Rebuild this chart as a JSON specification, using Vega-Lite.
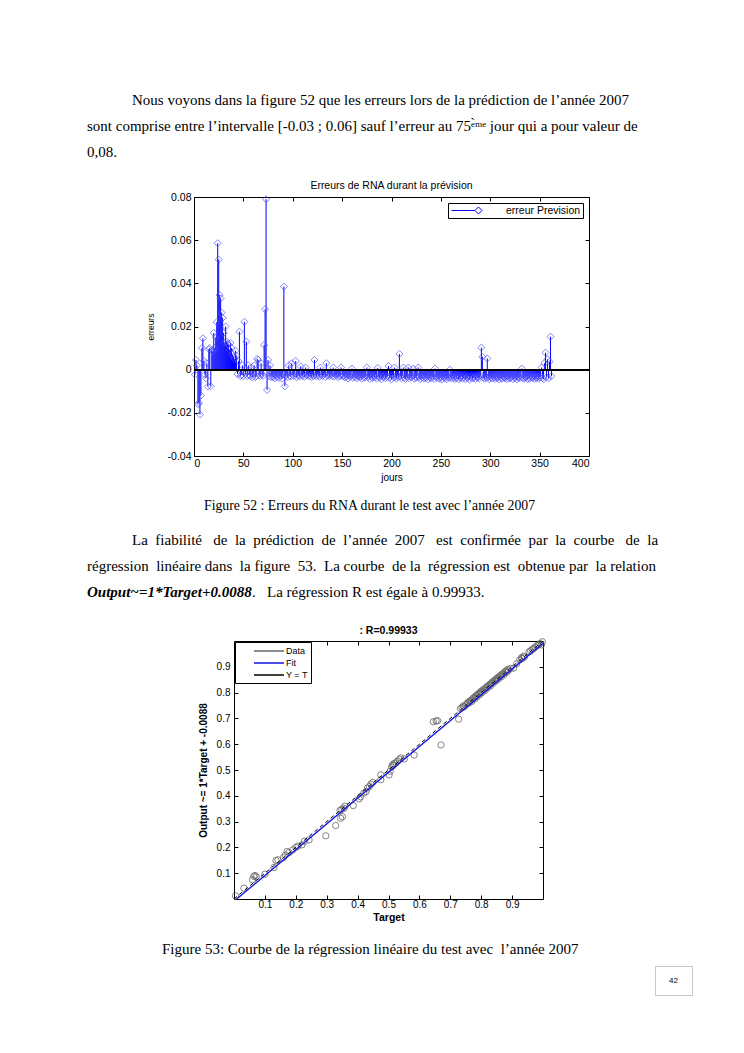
{
  "$schema": "https://vega.github.io/schema/vega-lite/v6.json",
  "background": "#ffffff",
  "padding": 0,
  "bounds": "flush",
  "spacing": 0,
  "resolve": {"scale": {"color": "independent"}, "legend": {"color": "independent"}},
  "config": {
    "view": {"stroke": null},
    "font": "Liberation Sans",
    "concat": {"spacing": 0},
    "axis": {"domain": false, "grid": false, "ticks": true, "tickSize": -4, "tickColor": "#000000", "tickWidth": 1, "labelFont": "Liberation Sans", "labelFontSize": 10.5, "labelColor": "#000000", "labelPadding": 6, "titleFont": "Liberation Sans", "titleColor": "#000000", "titleFontWeight": "normal"},
    "legend": {"labelFont": "Liberation Sans", "labelColor": "#000000"},
    "title": {"font": "Liberation Sans", "color": "#000000"},
    "text": {"font": "Liberation Serif", "fontSize": 15, "color": "#000000"}
  },
  "datasets": {
    "para1": [
      {"ligne": 1, "texte": "\u200b\u00a0\u00a0\u00a0\u00a0\u00a0\u00a0\u00a0\u00a0\u00a0\u00a0\u00a0\u00a0Nous voyons dans la figure 52 que les erreurs lors de la prédiction de l’année 2007"},
      {"ligne": 2, "texte": "sont comprise entre l’intervalle [-0.03 ; 0.06] sauf l’erreur au 75\u1d49\u0300\u1d50\u1d49 jour qui a pour valeur de"},
      {"ligne": 3, "texte": "0,08."}
    ],
    "legende52": [{"ligne": 1, "texte": "Figure 52 : Erreurs du RNA durant le test avec l’année 2007"}],
    "para2": [
      {"ligne": 1, "texte": "\u200b\u00a0\u00a0\u00a0\u00a0\u00a0\u00a0\u00a0\u00a0\u00a0\u00a0\u00a0\u00a0La \u00a0fiabilité \u00a0\u00a0de \u00a0la \u00a0prédiction \u00a0de \u00a0l’année \u00a02007 \u00a0\u00a0est \u00a0confirmée \u00a0par \u00a0la \u00a0courbe \u00a0\u00a0de \u00a0la"},
      {"ligne": 2, "texte": "régression \u00a0linéaire dans \u00a0la figure \u00a053. \u00a0La courbe \u00a0de la \u00a0régression est \u00a0obtenue par \u00a0la relation"},
      {"ligne": 3, "texte": "\u200b\u00a0\u00a0\u00a0\u00a0\u00a0\u00a0\u00a0\u00a0\u00a0\u00a0\u00a0\u00a0\u00a0\u00a0\u00a0\u00a0\u00a0\u00a0\u00a0\u00a0\u00a0\u00a0\u00a0\u00a0\u00a0\u00a0\u00a0\u00a0\u00a0\u00a0\u00a0\u00a0\u00a0\u00a0\u00a0\u00a0\u00a0\u00a0\u00a0\u00a0\u00a0\u00a0\u00a0\u00a0.\u00a0\u00a0\u00a0La régression R est égale à 0.99933."}
    ],
    "para2gras": [{"ligne": 3, "texte": "Output~=1*Target+0.0088"}],
    "legende53": [{"ligne": 1, "texte": "Figure 53: Courbe de la régression linéaire du test avec \u00a0l’année 2007"}],
    "erreurs": [
      {"jour":1,"erreur":-0.0023},{"jour":2,"erreur":0.0045},{"jour":3,"erreur":0.002},{"jour":4,"erreur":-0.016},{"jour":5,"erreur":-0.0154},{"jour":6,"erreur":-0.0208},{"jour":7,"erreur":-0.012},{"jour":8,"erreur":0.010},{"jour":9,"erreur":0.0145},{"jour":10,"erreur":0.004},
      {"jour":11,"erreur":-0.0023},{"jour":12,"erreur":-0.004},{"jour":13,"erreur":0.003},{"jour":14,"erreur":-0.0078},{"jour":15,"erreur":0.0095},{"jour":16,"erreur":0.010},{"jour":17,"erreur":-0.0077},{"jour":18,"erreur":0.009},{"jour":19,"erreur":0.0085},{"jour":20,"erreur":0.017},
      {"jour":21,"erreur":0.010},{"jour":22,"erreur":0.015},{"jour":23,"erreur":0.022},{"jour":24,"erreur":0.0586},{"jour":25,"erreur":0.051},{"jour":26,"erreur":0.0346},{"jour":27,"erreur":0.033},{"jour":28,"erreur":0.0264},{"jour":29,"erreur":0.024},{"jour":30,"erreur":0.017},
      {"jour":31,"erreur":0.0125},{"jour":32,"erreur":0.020},{"jour":33,"erreur":0.013},{"jour":34,"erreur":0.012},{"jour":35,"erreur":0.0116},{"jour":36,"erreur":0.009},{"jour":37,"erreur":0.0124},{"jour":38,"erreur":0.010},{"jour":39,"erreur":0.007},{"jour":40,"erreur":0.006},
      {"jour":41,"erreur":0.005},{"jour":42,"erreur":0.0088},{"jour":43,"erreur":0.0065},{"jour":44,"erreur":-0.002},{"jour":45,"erreur":0.004},{"jour":46,"erreur":0.0176},{"jour":47,"erreur":-0.003},{"jour":48,"erreur":-0.0025},{"jour":49,"erreur":0.002},{"jour":50,"erreur":-0.003},
      {"jour":51,"erreur":0.0222},{"jour":52,"erreur":-0.002},{"jour":53,"erreur":0.013},{"jour":54,"erreur":-0.003},{"jour":55,"erreur":0.002},{"jour":56,"erreur":-0.0025},{"jour":57,"erreur":-0.003},{"jour":58,"erreur":0.001},{"jour":59,"erreur":-0.0035},{"jour":60,"erreur":-0.002},
      {"jour":61,"erreur":0.002},{"jour":62,"erreur":-0.0035},{"jour":63,"erreur":-0.003},{"jour":64,"erreur":0.005},{"jour":65,"erreur":0.0045},{"jour":66,"erreur":-0.0025},{"jour":67,"erreur":-0.003},{"jour":68,"erreur":0.003},{"jour":69,"erreur":-0.002},{"jour":70,"erreur":-0.0028},
      {"jour":71,"erreur":0.0114},{"jour":72,"erreur":0.028},{"jour":73,"erreur":0.079},{"jour":74,"erreur":-0.0094},{"jour":75,"erreur":0.0045},{"jour":76,"erreur":-0.003},{"jour":77,"erreur":0.002},{"jour":78,"erreur":-0.0035},{"jour":79,"erreur":-0.0030},{"jour":80,"erreur":-0.0035},
      {"jour":81,"erreur":-0.0020},{"jour":82,"erreur":-0.0040},{"jour":83,"erreur":-0.0028},{"jour":84,"erreur":-0.0033},{"jour":85,"erreur":-0.0015},{"jour":86,"erreur":-0.0038},{"jour":87,"erreur":-0.0025},{"jour":88,"erreur":-0.0030},{"jour":89,"erreur":-0.0042},{"jour":90,"erreur":-0.0020},
      {"jour":91,"erreur":0.0385},{"jour":92,"erreur":-0.0077},{"jour":93,"erreur":-0.0030},{"jour":94,"erreur":-0.0022},{"jour":95,"erreur":-0.0035},{"jour":96,"erreur":0.0020},{"jour":97,"erreur":-0.0028},{"jour":98,"erreur":-0.0032},{"jour":99,"erreur":0.0030},{"jour":100,"erreur":-0.0025},
      {"jour":101,"erreur":-0.0030},{"jour":102,"erreur":-0.0018},{"jour":103,"erreur":0.0040},{"jour":104,"erreur":-0.0035},{"jour":105,"erreur":-0.0027},{"jour":106,"erreur":-0.0020},{"jour":107,"erreur":-0.0031},{"jour":108,"erreur":0.0015},{"jour":109,"erreur":-0.0024},{"jour":110,"erreur":-0.0030},
      {"jour":111,"erreur":-0.0019},{"jour":112,"erreur":-0.0033},{"jour":113,"erreur":0.0010},{"jour":114,"erreur":-0.0026},{"jour":115,"erreur":-0.0022},{"jour":116,"erreur":-0.0030},{"jour":117,"erreur":-0.0017},{"jour":118,"erreur":-0.0028},{"jour":119,"erreur":-0.0035},{"jour":120,"erreur":-0.0021},
      {"jour":121,"erreur":-0.0029},{"jour":122,"erreur":0.0045},{"jour":123,"erreur":-0.0024},{"jour":124,"erreur":-0.0031},{"jour":125,"erreur":-0.0018},{"jour":126,"erreur":-0.0027},{"jour":127,"erreur":-0.0033},{"jour":128,"erreur":0.0010},{"jour":129,"erreur":-0.0022},{"jour":130,"erreur":-0.0030},
      {"jour":131,"erreur":-0.0025},{"jour":132,"erreur":-0.0019},{"jour":133,"erreur":-0.0034},{"jour":134,"erreur":0.0030},{"jour":135,"erreur":-0.0028},{"jour":136,"erreur":-0.0021},{"jour":137,"erreur":-0.0030},{"jour":138,"erreur":-0.0024},{"jour":139,"erreur":-0.0017},{"jour":140,"erreur":-0.0029},
      {"jour":141,"erreur":0.0010},{"jour":142,"erreur":-0.0032},{"jour":143,"erreur":-0.0023},{"jour":144,"erreur":-0.0027},{"jour":145,"erreur":-0.0020},{"jour":146,"erreur":-0.0035},{"jour":147,"erreur":-0.0026},{"jour":148,"erreur":-0.0030},{"jour":149,"erreur":0.0010},{"jour":150,"erreur":-0.0024},
      {"jour":151,"erreur":-0.0031},{"jour":152,"erreur":-0.0028},{"jour":153,"erreur":-0.0036},{"jour":154,"erreur":-0.0022},{"jour":155,"erreur":-0.0030},{"jour":156,"erreur":-0.0041},{"jour":157,"erreur":-0.0027},{"jour":158,"erreur":-0.0033},{"jour":159,"erreur":-0.0025},{"jour":160,"erreur":0.0005},
      {"jour":161,"erreur":-0.0038},{"jour":162,"erreur":-0.0029},{"jour":163,"erreur":-0.0034},{"jour":164,"erreur":-0.0023},{"jour":165,"erreur":-0.0040},{"jour":166,"erreur":-0.0031},{"jour":167,"erreur":-0.0027},{"jour":168,"erreur":-0.0036},{"jour":169,"erreur":-0.0030},{"jour":170,"erreur":-0.0042},
      {"jour":171,"erreur":-0.0025},{"jour":172,"erreur":-0.0033},{"jour":173,"erreur":-0.0038},{"jour":174,"erreur":-0.0028},{"jour":175,"erreur":0.0010},{"jour":176,"erreur":-0.0035},{"jour":177,"erreur":-0.0030},{"jour":178,"erreur":-0.0043},{"jour":179,"erreur":-0.0026},{"jour":180,"erreur":-0.0034},
      {"jour":181,"erreur":-0.0039},{"jour":182,"erreur":-0.0029},{"jour":183,"erreur":-0.0036},{"jour":184,"erreur":-0.0024},{"jour":185,"erreur":-0.0041},{"jour":186,"erreur":0.0008},{"jour":187,"erreur":-0.0032},{"jour":188,"erreur":-0.0037},{"jour":189,"erreur":-0.0028},{"jour":190,"erreur":-0.0044},
      {"jour":191,"erreur":-0.0031},{"jour":192,"erreur":-0.0035},{"jour":193,"erreur":-0.0026},{"jour":194,"erreur":-0.0040},{"jour":195,"erreur":-0.0033},{"jour":196,"erreur":-0.0029},{"jour":197,"erreur":0.0017},{"jour":198,"erreur":-0.0038},{"jour":199,"erreur":-0.0030},{"jour":200,"erreur":-0.0045},
      {"jour":201,"erreur":-0.0027},{"jour":202,"erreur":-0.0036},{"jour":203,"erreur":0.0010},{"jour":204,"erreur":-0.0032},{"jour":205,"erreur":-0.0041},{"jour":206,"erreur":-0.0028},{"jour":207,"erreur":-0.0035},{"jour":208,"erreur":0.0073},{"jour":209,"erreur":-0.0030},{"jour":210,"erreur":-0.0039},
      {"jour":211,"erreur":-0.0025},{"jour":212,"erreur":0.0010},{"jour":213,"erreur":-0.0037},{"jour":214,"erreur":-0.0043},{"jour":215,"erreur":-0.0029},{"jour":216,"erreur":-0.0034},{"jour":217,"erreur":0.0010},{"jour":218,"erreur":-0.0040},{"jour":219,"erreur":-0.0031},{"jour":220,"erreur":-0.0036},
      {"jour":221,"erreur":-0.0027},{"jour":222,"erreur":0.0005},{"jour":223,"erreur":-0.0042},{"jour":224,"erreur":-0.0033},{"jour":225,"erreur":-0.0038},{"jour":226,"erreur":-0.0029},{"jour":227,"erreur":0.0010},{"jour":228,"erreur":-0.0035},{"jour":229,"erreur":-0.0044},{"jour":230,"erreur":-0.0030},
      {"jour":231,"erreur":-0.0037},{"jour":232,"erreur":-0.0026},{"jour":233,"erreur":-0.0041},{"jour":234,"erreur":-0.0034},{"jour":235,"erreur":-0.0039},{"jour":236,"erreur":-0.0028},{"jour":237,"erreur":-0.0045},{"jour":238,"erreur":-0.0032},{"jour":239,"erreur":-0.0036},{"jour":240,"erreur":-0.0040},
      {"jour":241,"erreur":-0.0029},{"jour":242,"erreur":-0.0035},{"jour":243,"erreur":-0.0043},{"jour":244,"erreur":0.0005},{"jour":245,"erreur":-0.0031},{"jour":246,"erreur":-0.0038},{"jour":247,"erreur":-0.0027},{"jour":248,"erreur":-0.0042},{"jour":249,"erreur":-0.0033},{"jour":250,"erreur":-0.0037},
      {"jour":251,"erreur":-0.0046},{"jour":252,"erreur":-0.0030},{"jour":253,"erreur":-0.0035},{"jour":254,"erreur":-0.0040},{"jour":255,"erreur":-0.0028},{"jour":256,"erreur":-0.0044},{"jour":257,"erreur":-0.0032},{"jour":258,"erreur":-0.0038},{"jour":259,"erreur":0.0000},{"jour":260,"erreur":-0.0034},
      {"jour":261,"erreur":-0.0041},{"jour":262,"erreur":-0.0029},{"jour":263,"erreur":-0.0036},{"jour":264,"erreur":-0.0043},{"jour":265,"erreur":-0.0031},{"jour":266,"erreur":-0.0039},{"jour":267,"erreur":-0.0027},{"jour":268,"erreur":-0.0045},{"jour":269,"erreur":-0.0034},{"jour":270,"erreur":-0.0038},
      {"jour":271,"erreur":-0.0030},{"jour":272,"erreur":-0.0042},{"jour":273,"erreur":-0.0036},{"jour":274,"erreur":-0.0028},{"jour":275,"erreur":-0.0044},{"jour":276,"erreur":-0.0033},{"jour":277,"erreur":-0.0039},{"jour":278,"erreur":-0.0031},{"jour":279,"erreur":-0.0046},{"jour":280,"erreur":-0.0035},
      {"jour":281,"erreur":-0.0029},{"jour":282,"erreur":-0.0041},{"jour":283,"erreur":-0.0037},{"jour":284,"erreur":-0.0032},{"jour":285,"erreur":-0.0043},{"jour":286,"erreur":-0.0030},{"jour":287,"erreur":-0.0038},{"jour":288,"erreur":-0.0034},{"jour":289,"erreur":-0.0040},{"jour":290,"erreur":-0.0027},
      {"jour":291,"erreur":0.0102},{"jour":292,"erreur":0.0060},{"jour":293,"erreur":-0.0036},{"jour":294,"erreur":-0.0042},{"jour":295,"erreur":-0.0031},{"jour":296,"erreur":-0.0039},{"jour":297,"erreur":0.0052},{"jour":298,"erreur":-0.0035},{"jour":299,"erreur":-0.0044},{"jour":300,"erreur":-0.0030},
      {"jour":301,"erreur":-0.0037},{"jour":302,"erreur":-0.0041},{"jour":303,"erreur":-0.0028},{"jour":304,"erreur":-0.0036},{"jour":305,"erreur":-0.0043},{"jour":306,"erreur":-0.0032},{"jour":307,"erreur":-0.0039},{"jour":308,"erreur":-0.0034},{"jour":309,"erreur":-0.0045},{"jour":310,"erreur":-0.0031},
      {"jour":311,"erreur":-0.0038},{"jour":312,"erreur":-0.0042},{"jour":313,"erreur":-0.0029},{"jour":314,"erreur":-0.0036},{"jour":315,"erreur":-0.0040},{"jour":316,"erreur":-0.0033},{"jour":317,"erreur":-0.0044},{"jour":318,"erreur":-0.0030},{"jour":319,"erreur":-0.0037},{"jour":320,"erreur":-0.0041},
      {"jour":321,"erreur":-0.0035},{"jour":322,"erreur":-0.0028},{"jour":323,"erreur":-0.0043},{"jour":324,"erreur":-0.0034},{"jour":325,"erreur":-0.0039},{"jour":326,"erreur":-0.0031},{"jour":327,"erreur":-0.0045},{"jour":328,"erreur":-0.0036},{"jour":329,"erreur":-0.0032},{"jour":330,"erreur":-0.0040},
      {"jour":331,"erreur":-0.0029},{"jour":332,"erreur":0.0005},{"jour":333,"erreur":-0.0038},{"jour":334,"erreur":-0.0042},{"jour":335,"erreur":-0.0033},{"jour":336,"erreur":-0.0037},{"jour":337,"erreur":-0.0030},{"jour":338,"erreur":-0.0044},{"jour":339,"erreur":-0.0035},{"jour":340,"erreur":-0.0041},
      {"jour":341,"erreur":-0.0028},{"jour":342,"erreur":-0.0036},{"jour":343,"erreur":-0.0039},{"jour":344,"erreur":-0.0032},{"jour":345,"erreur":-0.0043},{"jour":346,"erreur":-0.0034},{"jour":347,"erreur":-0.0038},{"jour":348,"erreur":-0.0030},{"jour":349,"erreur":-0.0042},{"jour":350,"erreur":-0.0036},
      {"jour":351,"erreur":-0.0031},{"jour":352,"erreur":0.0010},{"jour":353,"erreur":-0.0039},{"jour":354,"erreur":-0.0044},{"jour":355,"erreur":0.0030},{"jour":356,"erreur":0.0079},{"jour":357,"erreur":-0.0035},{"jour":358,"erreur":0.0048},{"jour":359,"erreur":-0.0040},{"jour":360,"erreur":0.0037},
      {"jour":361,"erreur":0.0153},{"jour":362,"erreur":-0.0030}
    ],
    "regression": [
      {"target":0.005,"sortie":0.012},{"target":0.032,"sortie":0.042},{"target":0.06,"sortie":0.075},{"target":0.064,"sortie":0.088},{"target":0.068,"sortie":0.091},{"target":0.072,"sortie":0.086},{"target":0.1,"sortie":0.096},{"target":0.129,"sortie":0.122},{"target":0.136,"sortie":0.149},{"target":0.142,"sortie":0.152},
      {"target":0.16,"sortie":0.16},{"target":0.166,"sortie":0.17},{"target":0.172,"sortie":0.184},{"target":0.178,"sortie":0.18},{"target":0.19,"sortie":0.19},{"target":0.2,"sortie":0.2},{"target":0.207,"sortie":0.205},{"target":0.22,"sortie":0.21},{"target":0.228,"sortie":0.224},{"target":0.243,"sortie":0.229},
      {"target":0.297,"sortie":0.245},{"target":0.329,"sortie":0.285},{"target":0.345,"sortie":0.313},{"target":0.351,"sortie":0.319},{"target":0.343,"sortie":0.343},{"target":0.349,"sortie":0.348},{"target":0.356,"sortie":0.352},{"target":0.359,"sortie":0.36},{"target":0.386,"sortie":0.362},{"target":0.405,"sortie":0.388},
      {"target":0.41,"sortie":0.396},{"target":0.42,"sortie":0.41},{"target":0.427,"sortie":0.416},{"target":0.432,"sortie":0.43},{"target":0.438,"sortie":0.436},{"target":0.443,"sortie":0.445},{"target":0.449,"sortie":0.452},{"target":0.475,"sortie":0.481},{"target":0.475,"sortie":0.462},{"target":0.502,"sortie":0.481},
      {"target":0.505,"sortie":0.495},{"target":0.51,"sortie":0.512},{"target":0.513,"sortie":0.52},{"target":0.516,"sortie":0.518},{"target":0.518,"sortie":0.525},{"target":0.524,"sortie":0.528},{"target":0.529,"sortie":0.535},{"target":0.535,"sortie":0.541},{"target":0.54,"sortie":0.547},{"target":0.551,"sortie":0.543},
      {"target":0.583,"sortie":0.558},{"target":0.67,"sortie":0.597},{"target":0.645,"sortie":0.687},{"target":0.654,"sortie":0.69},{"target":0.659,"sortie":0.691},{"target":0.727,"sortie":0.697},
      {"target":0.733,"sortie":0.738},{"target":0.738,"sortie":0.742},{"target":0.742,"sortie":0.748},{"target":0.745,"sortie":0.744},{"target":0.75,"sortie":0.753},{"target":0.754,"sortie":0.756},{"target":0.757,"sortie":0.762},{"target":0.761,"sortie":0.76},{"target":0.764,"sortie":0.768},{"target":0.768,"sortie":0.771},
      {"target":0.77,"sortie":0.766},{"target":0.773,"sortie":0.777},{"target":0.776,"sortie":0.78},{"target":0.779,"sortie":0.776},{"target":0.782,"sortie":0.787},{"target":0.785,"sortie":0.789},{"target":0.787,"sortie":0.784},{"target":0.79,"sortie":0.795},{"target":0.793,"sortie":0.797},{"target":0.796,"sortie":0.793},
      {"target":0.798,"sortie":0.803},{"target":0.801,"sortie":0.806},{"target":0.804,"sortie":0.801},{"target":0.807,"sortie":0.812},{"target":0.81,"sortie":0.813},{"target":0.813,"sortie":0.809},{"target":0.816,"sortie":0.82},{"target":0.819,"sortie":0.823},{"target":0.822,"sortie":0.819},{"target":0.825,"sortie":0.829},
      {"target":0.828,"sortie":0.832},{"target":0.83,"sortie":0.826},{"target":0.833,"sortie":0.837},{"target":0.836,"sortie":0.841},{"target":0.839,"sortie":0.836},{"target":0.842,"sortie":0.846},{"target":0.845,"sortie":0.849},{"target":0.848,"sortie":0.845},{"target":0.85,"sortie":0.855},{"target":0.853,"sortie":0.857},
      {"target":0.856,"sortie":0.853},{"target":0.859,"sortie":0.863},{"target":0.862,"sortie":0.866},{"target":0.865,"sortie":0.861},{"target":0.868,"sortie":0.872},{"target":0.871,"sortie":0.874},{"target":0.874,"sortie":0.87},{"target":0.877,"sortie":0.881},{"target":0.88,"sortie":0.884},{"target":0.883,"sortie":0.879},
      {"target":0.886,"sortie":0.89},{"target":0.889,"sortie":0.887},{"target":0.895,"sortie":0.894},{"target":0.905,"sortie":0.895},{"target":0.915,"sortie":0.912},{"target":0.925,"sortie":0.927},{"target":0.93,"sortie":0.935},{"target":0.933,"sortie":0.932},{"target":0.937,"sortie":0.941},{"target":0.94,"sortie":0.938},
      {"target":0.955,"sortie":0.958},{"target":0.96,"sortie":0.962},{"target":0.965,"sortie":0.968},{"target":0.97,"sortie":0.971},{"target":0.975,"sortie":0.977},{"target":0.98,"sortie":0.982},{"target":0.985,"sortie":0.984},{"target":0.99,"sortie":0.99},{"target":0.995,"sortie":0.985},{"target":0.998,"sortie":0.997}
    ],
    "droiteYT": [{"target": 0, "sortie": 0}, {"target": 1, "sortie": 1}],
    "droiteFit": [{"target": 0.0088, "sortie": 0}, {"target": 1, "sortie": 0.9912}]
  },
  "vconcat": [
    {"width": 1, "height": 92, "data": {"values": []}, "mark": "text"},
    {
      "width": 174, "height": 78,
      "data": {"name": "para1"},
      "mark": {"type": "text", "align": "left", "baseline": "alphabetic", "font": "Liberation Serif", "fontSize": 15},
      "encoding": {
        "y": {"field": "ligne", "type": "ordinal", "scale": {"type": "band", "paddingInner": 0, "paddingOuter": 0}, "axis": null},
        "text": {"field": "texte", "type": "nominal"}
      }
    },
    {"width": 1, "height": 27, "data": {"values": []}, "mark": "text"},
    {
      "bounds": "flush",
      "spacing": 0,
      "resolve": {"scale": {"color": "independent"}, "legend": {"color": "independent"}},
      "hconcat": [
        {"width": 194, "height": 1, "data": {"values": []}, "mark": "text"},
        {
          "width": 395, "height": 259,
          "title": {"text": "Erreurs de RNA durant la prévision", "fontSize": 10.5, "fontWeight": "normal", "offset": 1},
          "view": {"stroke": "#000000", "strokeWidth": 1},
          "data": {"name": "erreurs"},
          "layer": [
            {
              "mark": {"type": "rule", "strokeWidth": 1},
              "encoding": {
                "x": {"field": "jour", "type": "quantitative", "scale": {"domain": [0, 400], "nice": false},
                      "axis": {"orient": "bottom", "values": [0, 50, 100, 150, 200, 250, 300, 350, 400], "title": "jours", "titleFontSize": 10, "titlePadding": 4}},
                "y": {"field": "erreur", "type": "quantitative", "scale": {"domain": [-0.04, 0.08], "nice": false, "zero": false},
                      "axis": {"orient": "left", "values": [-0.04, -0.02, 0, 0.02, 0.04, 0.06, 0.08], "labelExpr": "replace(format(datum.value, '~g'), '−', '-')", "labelPadding": 7, "title": "erreurs", "titleFontSize": 8.5, "titlePadding": 12}},
                "y2": {"datum": 0},
                "color": {"datum": "erreur Prevision", "type": "nominal", "scale": {"domain": ["erreur Prevision"], "range": ["#0000ff"]},
                          "legend": {"orient": "top-right", "offset": 6, "title": null, "strokeColor": "#000000", "fillColor": "#ffffff", "padding": 2,
                                     "symbolType": "M-2.8,0H1.9M1.9,0L2.6,-0.7L3.3,0L2.6,0.7Z", "symbolSize": 100, "symbolStrokeWidth": 1, "symbolOffset": 10,
                                     "labelFontSize": 10.5, "labelOffset": 35}}
              }
            },
            {
              "mark": {"type": "point", "shape": "diamond", "filled": false, "size": 50, "strokeWidth": 0.8, "color": "#4d4dff", "opacity": 0.85},
              "encoding": {
                "x": {"field": "jour", "type": "quantitative", "axis": {"orient": "top", "values": [0, 50, 100, 150, 200, 250, 300, 350, 400], "labels": false, "title": null}},
                "y": {"field": "erreur", "type": "quantitative", "axis": {"orient": "right", "values": [-0.04, -0.02, 0, 0.02, 0.04, 0.06, 0.08], "labels": false, "title": null}}
              }
            },
            {
              "mark": {"type": "rule", "color": "#000000", "strokeWidth": 1},
              "encoding": {"y": {"datum": 0, "type": "quantitative", "axis": null}}
            }
          ],
          "resolve": {"axis": {"x": "independent", "y": "independent"}}
        }
      ]
    },
    {"width": 1, "height": 259, "data": {"values": []}, "mark": "text"},
    {"width": 1, "height": 41, "data": {"values": []}, "mark": "text"},
    {
      "width": 408, "height": 26,
      "data": {"name": "legende52"},
      "mark": {"type": "text", "align": "left", "baseline": "alphabetic", "font": "Liberation Serif", "fontSize": 13.75},
      "encoding": {
        "y": {"field": "ligne", "type": "ordinal", "scale": {"type": "band", "paddingInner": 0, "paddingOuter": 0}, "axis": null},
        "text": {"field": "texte", "type": "nominal"}
      }
    },
    {"width": 1, "height": 9, "data": {"values": []}, "mark": "text"},
    {
      "width": 174, "height": 78,
      "layer": [
        {
          "data": {"name": "para2"},
          "mark": {"type": "text", "align": "left", "baseline": "alphabetic", "font": "Liberation Serif", "fontSize": 15},
          "encoding": {
            "y": {"field": "ligne", "type": "ordinal", "scale": {"type": "band", "domain": [1, 2, 3], "paddingInner": 0, "paddingOuter": 0}, "axis": null},
            "text": {"field": "texte", "type": "nominal"}
          }
        },
        {
          "data": {"name": "para2gras"},
          "mark": {"type": "text", "align": "left", "baseline": "alphabetic", "font": "Liberation Serif", "fontSize": 15, "fontWeight": "bold", "fontStyle": "italic"},
          "encoding": {
            "y": {"field": "ligne", "type": "ordinal", "axis": null},
            "text": {"field": "texte", "type": "nominal"}
          }
        }
      ]
    },
    {"width": 1, "height": 31, "data": {"values": []}, "mark": "text"},
    {
      "bounds": "flush",
      "spacing": 0,
      "resolve": {"scale": {"color": "independent"}, "legend": {"color": "independent"}},
      "hconcat": [
        {"width": 234, "height": 1, "data": {"values": []}, "mark": "text"},
        {
          "width": 309, "height": 258,
          "title": {"text": ": R=0.99933", "fontSize": 10.5, "fontWeight": "bold", "offset": 1},
          "view": {"stroke": "#000000", "strokeWidth": 1},
          "layer": [
            {
              "data": {"name": "regression"},
              "mark": {"type": "point", "shape": "circle", "filled": false, "size": 40, "strokeWidth": 0.8, "opacity": 1},
              "encoding": {
                "x": {"field": "target", "type": "quantitative", "scale": {"domain": [0, 1], "nice": false},
                      "axis": {"orient": "bottom", "values": [0.1, 0.2, 0.3, 0.4, 0.5, 0.6, 0.7, 0.8, 0.9], "format": ".1f", "labelFontSize": 10, "labelPadding": 4, "title": "Target", "titleFontWeight": "bold", "titleFontSize": 10.5, "titlePadding": 3}},
                "y": {"field": "sortie", "type": "quantitative", "scale": {"domain": [0, 1], "nice": false},
                      "axis": {"orient": "left", "values": [0.1, 0.2, 0.3, 0.4, 0.5, 0.6, 0.7, 0.8, 0.9], "format": ".1f", "labelFontSize": 10, "labelPadding": 8, "title": "Output ~= 1*Target + -0.0088", "titleFontWeight": "bold", "titleFontSize": 10, "titlePadding": 8}},
                "color": {"datum": "Data", "type": "nominal", "scale": {"domain": ["Data", "Fit", "Y = T"], "range": ["#666666", "#1515e0", "#000000"]},
                          "legend": {"orient": "top-left", "offset": 1, "title": null, "strokeColor": "#000000", "fillColor": "#ffffff", "padding": 3,
                                     "symbolType": "M-3,0H3", "symbolSize": 100, "symbolOffset": 25, "labelOffset": 11, "labelFontSize": 9, "rowPadding": 1}}
              }
            },
            {
              "data": {"name": "droiteYT"},
              "mark": {"type": "line", "strokeDash": [4, 3], "strokeWidth": 1},
              "encoding": {
                "x": {"field": "target", "type": "quantitative", "axis": {"orient": "top", "values": [0.1, 0.2, 0.3, 0.4, 0.5, 0.6, 0.7, 0.8, 0.9], "labels": false, "title": null}},
                "y": {"field": "sortie", "type": "quantitative", "axis": {"orient": "right", "values": [0.1, 0.2, 0.3, 0.4, 0.5, 0.6, 0.7, 0.8, 0.9], "labels": false, "title": null}},
                "color": {"datum": "Y = T", "type": "nominal"}
              }
            },
            {
              "data": {"name": "droiteFit"},
              "mark": {"type": "line", "strokeWidth": 1.4},
              "encoding": {
                "x": {"field": "target", "type": "quantitative", "axis": null},
                "y": {"field": "sortie", "type": "quantitative", "axis": null},
                "color": {"datum": "Fit", "type": "nominal"}
              }
            }
          ],
          "resolve": {"axis": {"x": "independent", "y": "independent"}}
        }
      ]
    },
    {"width": 1, "height": 258, "data": {"values": []}, "mark": "text"},
    {"width": 1, "height": 43, "data": {"values": []}, "mark": "text"},
    {
      "width": 324, "height": 24,
      "data": {"name": "legende53"},
      "mark": {"type": "text", "align": "left", "baseline": "alphabetic", "font": "Liberation Serif", "fontSize": 15},
      "encoding": {
        "y": {"field": "ligne", "type": "ordinal", "scale": {"type": "band", "paddingInner": 0, "paddingOuter": 0}, "axis": null},
        "text": {"field": "texte", "type": "nominal"}
      }
    },
    {
      "bounds": "flush",
      "spacing": 0,
      "hconcat": [
        {"width": 655, "height": 1, "data": {"values": []}, "mark": "text"},
        {
          "width": 37, "height": 29,
          "view": {"stroke": "#c8c8c8", "strokeWidth": 1},
          "data": {"values": [{"page": "42"}]},
          "mark": {"type": "text", "font": "Liberation Sans", "fontSize": 8, "align": "center", "baseline": "middle"},
          "encoding": {"text": {"field": "page", "type": "nominal"}}
        }
      ]
    },
    {"width": 1, "height": 29, "data": {"values": []}, "mark": "text"}
  ]
}
